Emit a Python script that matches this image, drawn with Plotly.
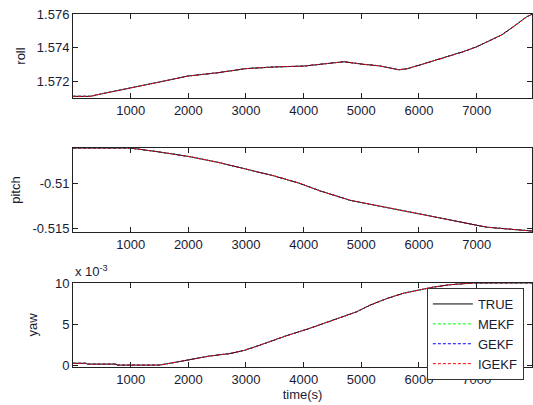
import plotly.graph_objects as go
from plotly.subplots import make_subplots

# ---- data ----
roll_t = [0, 300, 500, 1000, 1500, 2000, 2500, 3000, 3500, 4000, 4500, 4700, 5000, 5300,
          5650, 5800, 6000, 6200, 6500, 6770, 7000, 7200, 7431, 7637, 7870, 7960]
roll_true = [1.5711, 1.5711, 1.57125, 1.57158, 1.57195, 1.57231, 1.5725, 1.57275, 1.57285,
             1.5729, 1.5731, 1.57316, 1.57302, 1.57292, 1.57268, 1.57275, 1.57295, 1.57316,
             1.57346, 1.57376, 1.57405, 1.57437, 1.57475, 1.57524, 1.57584, 1.57598]

pitch_t = [0, 985, 1500, 2025, 2545, 3000, 3240, 3500, 3934, 4281, 4802, 5380, 5960, 6451,
           7000, 7200, 7500, 7960]
pitch_true = [-0.50608, -0.50608, -0.50652, -0.50704, -0.50771, -0.50844, -0.50878, -0.50919,
              -0.51, -0.51082, -0.51186, -0.5126, -0.51333, -0.514, -0.51463, -0.51486,
              -0.515, -0.51527]

yaw_t = [0, 230, 240, 750, 760, 1500, 1677, 2025, 2377, 2720, 2980, 3240, 3703, 4108, 4571,
         4918, 5149, 5439, 5727, 6017, 6248, 6538, 6940, 7960]
yaw_true_e3 = [0.25, 0.25, 0.15, 0.15, 0.03, 0.03, 0.25, 0.73, 1.14, 1.43, 1.84, 2.45, 3.6,
               4.5, 5.6, 6.5, 7.3, 8.1, 8.75, 9.2, 9.5, 9.79, 10.0, 10.02]

# estimates are visually indistinguishable from the truth
roll_est = roll_true
pitch_est = pitch_true
yaw_est_e3 = yaw_true_e3

series_names = ["TRUE", "MEKF", "GEKF", "IGEKF"]
series_colors = ["#000000", "#00ff00", "#0000ff", "#ff0000"]
series_dash = ["solid", "3px,2px", "3px,2px", "3px,2px"]

x_ticks = [1000, 2000, 3000, 4000, 5000, 6000, 7000]

# ---- figure ----
fig = make_subplots(rows=3, cols=1, shared_xaxes=False, vertical_spacing=0.1)

panels = [
    (roll_t, roll_true, roll_est),
    (pitch_t, pitch_true, pitch_est),
    (yaw_t, yaw_true_e3, yaw_est_e3),
]

for r, (t, tru, est) in enumerate(panels, start=1):
    for i, name in enumerate(series_names):
        y = tru if i == 0 else est
        fig.add_trace(go.Scatter(
            x=t, y=y, mode="lines", name=name,
            line=dict(color=series_colors[i], width=1, dash=series_dash[i]),
            showlegend=(r == 3),
        ), row=r, col=1)

font_col = "#1a1a33"
axis_common = dict(showline=True, linecolor="#222222", linewidth=1, mirror="ticks",
                   ticks="inside", ticklen=5, tickcolor="#222222", showgrid=False,
                   zeroline=False, tickfont=dict(family="Liberation Sans", size=13, color=font_col))

domains = [(0.762, 1.0), (0.3824, 0.6204), (0.0, 0.238)]
for r in range(1, 4):
    fig.update_xaxes(range=[0, 7960], tickvals=x_ticks, row=r, col=1, **axis_common)
    fig.update_yaxes(domain=list(domains[r - 1]), row=r, col=1, **axis_common)

fig.update_yaxes(range=[1.571, 1.576], tickvals=[1.572, 1.574, 1.576],
                 ticktext=["1.572", "1.574", "1.576"], row=1, col=1,
                 title=dict(text="roll", standoff=8, font=dict(family="Liberation Sans", size=13, color=font_col)))
fig.update_yaxes(range=[-0.51538, -0.50608], tickvals=[-0.515, -0.51],
                 ticktext=["-0.515", "-0.51"], row=2, col=1,
                 title=dict(text="pitch", standoff=8, font=dict(family="Liberation Sans", size=13, color=font_col)))
fig.update_yaxes(range=[-0.2, 10.0], tickvals=[0, 5, 10], ticktext=["0", "5", "10"], row=3, col=1,
                 title=dict(text="yaw", standoff=14, font=dict(family="Liberation Sans", size=13, color=font_col)))
fig.update_xaxes(row=3, col=1,
                 title=dict(text="time(s)", standoff=4, font=dict(family="Liberation Sans", size=13, color=font_col)))

fig.add_annotation(text="x 10<sup>-3</sup>", xref="paper", yref="paper", x=0.0, y=0.238,
                   xanchor="left", yanchor="bottom", showarrow=False, yshift=2,
                   font=dict(family="Liberation Sans", size=13, color=font_col))

fig.update_layout(
    width=533, height=405,
    margin=dict(l=73, r=1, t=14, b=38),
    paper_bgcolor="white", plot_bgcolor="white",
    legend=dict(x=0.771, y=0.2238, xanchor="left", yanchor="top",
                bgcolor="white", bordercolor="#333333", borderwidth=1,
                font=dict(family="Liberation Sans", size=13, color=font_col),
                tracegroupgap=0, itemwidth=40),
)

fig.write_html("out.html")
